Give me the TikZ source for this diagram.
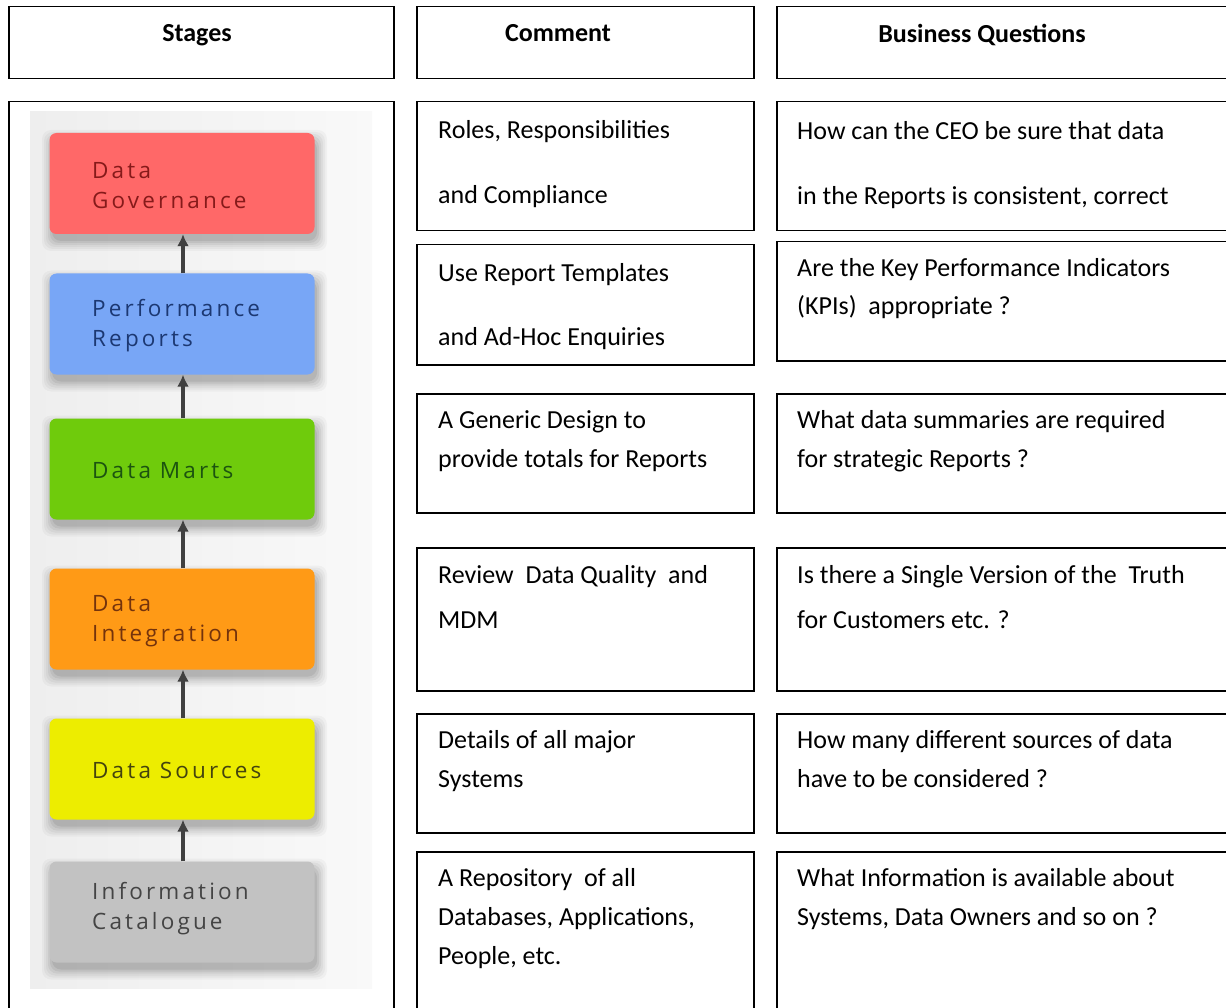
\documentclass[tikz,border=0pt]{standalone}
\usepackage{fontspec}
\setmainfont{Carlito}
\newfontfamily\stagefont[LetterSpace=14]{Open Sans}
\usetikzlibrary{arrows.meta}
\definecolor{dgfill}{HTML}{FF6868}
\definecolor{dgtext}{HTML}{861A1A}
\definecolor{prfill}{HTML}{78A6F6}
\definecolor{prtext}{HTML}{1C3872}
\definecolor{dmfill}{HTML}{6FCB0C}
\definecolor{dmtext}{HTML}{1C5410}
\definecolor{difill}{HTML}{FF9A16}
\definecolor{ditext}{HTML}{74330C}
\definecolor{dsfill}{HTML}{EDED00}
\definecolor{dstext}{HTML}{44440E}
\definecolor{icfill}{HTML}{C2C2C2}
\definecolor{ictext}{HTML}{444444}
\definecolor{bgleft}{HTML}{EEEEEE}
\definecolor{bgright}{HTML}{F9F9F9}
\definecolor{arrowgray}{HTML}{404040}
\begin{document}
\begin{tikzpicture}[x=1pt,y=-1pt,
  cell/.style={draw=black, line width=1.5pt, anchor=north west, inner sep=0pt, fill=white},
  hdr/.style={font=\fontsize{26}{31}\selectfont\bfseries, anchor=base, inner sep=0pt},
  txt/.style={anchor=base west, inner sep=0pt, align=left},
  stagebox/.style={rectangle, rounded corners=7pt, minimum width=265pt, minimum height=101pt,
    inner sep=0pt, draw=none},
  stagetxt/.style={anchor=west, inner sep=0pt, align=left,
    font=\stagefont\fontsize{22.5}{30}\selectfont},
  stagearrow/.style={draw=arrowgray, line width=3.3pt, -{Latex[length=12pt,width=12pt]}}
]
\clip (0,0) rectangle (1226,1008);
\fill[white] (0,0) rectangle (1226,1008);

% header row
\node[cell, minimum width=385pt, minimum height=72pt] (hstages) at (8,6) {};
\node[cell, minimum width=337pt, minimum height=72pt] (hcomment) at (416,6) {};
\node[cell, minimum width=470pt, minimum height=72pt] (hbusiness) at (776,6) {};
\node[hdr] (thstages) at (197,42) {Stages};
\node[hdr] (thcomment) at (558,42) {Comment};
\node[hdr] (thbusiness) at (982,43) {Business Questions};

% left stages frame
\node[cell, minimum width=385pt, minimum height=930pt] (stagesframe) at (8,101) {};
\shade[left color=bgleft, right color=bgright] (30,112) rectangle (372,988);

% soft shadows under the stage boxes
\foreach \cy in {183.5,324,469,619,769,912}{
  \foreach \r/\op in {10/0.03,8/0.035,6/0.04,4/0.05,2/0.06,0/0.07}{
    \fill[black, opacity=\op, rounded corners=9pt]
      (49-\r+3, \cy-50.5+7-\r) rectangle (314+\r+3, \cy+50.5+7+\r);
  }
}

% stage boxes
\node[stagebox, fill=dgfill] (dg) at (182,183.5) {};
\node[stagebox, fill=prfill] (pr) at (182,324) {};
\node[stagebox, fill=dmfill] (dm) at (182,469) {};
\node[stagebox, fill=difill] (di) at (182,619) {};
\node[stagebox, fill=dsfill] (ds) at (182,769) {};
\node[stagebox, fill=icfill] (ic) at (182,912) {};

\node[stagetxt, text=dgtext] (dgt) at (92,186) {Data\\Governance};
\node[stagetxt, text=prtext] (prt) at (92,326) {Performance\\Reports};
\node[stagetxt, text=dmtext] (dmt) at (92,471) {Data Marts};
\node[stagetxt, text=ditext] (dit) at (92,621) {Data\\Integration};
\node[stagetxt, text=dstext] (dst) at (92,770) {Data Sources};
\node[stagetxt, text=ictext] (ict) at (92,909) {Information\\Catalogue};

\draw[stagearrow] ([xshift=1pt]pr.north) -- ([xshift=1pt]dg.south);
\draw[stagearrow] ([xshift=1pt]dm.north) -- ([xshift=1pt]pr.south);
\draw[stagearrow] ([xshift=1pt]di.north) -- ([xshift=1pt]dm.south);
\draw[stagearrow] ([xshift=1pt]ds.north) -- ([xshift=1pt]di.south);
\draw[stagearrow] ([xshift=1pt]ic.north) -- ([xshift=1pt]ds.south);

% comment boxes
\node[cell, minimum width=337pt, minimum height=129pt] (c1) at (416,101) {};
\node[cell, minimum width=337pt, minimum height=120pt] (c2) at (416,244) {};
\node[cell, minimum width=337pt, minimum height=119pt] (c3) at (416,393) {};
\node[cell, minimum width=337pt, minimum height=143pt] (c4) at (416,547) {};
\node[cell, minimum width=337pt, minimum height=119pt] (c5) at (416,713) {};
\node[cell, minimum width=337pt, minimum height=180pt] (c6) at (416,851) {};

% business boxes
\node[cell, minimum width=470pt, minimum height=129pt] (b1) at (776,101) {};
\node[cell, minimum width=470pt, minimum height=119pt] (b2) at (776,241) {};
\node[cell, minimum width=470pt, minimum height=119pt] (b3) at (776,393) {};
\node[cell, minimum width=470pt, minimum height=143pt] (b4) at (776,547) {};
\node[cell, minimum width=470pt, minimum height=119pt] (b5) at (776,713) {};
\node[cell, minimum width=470pt, minimum height=180pt] (b6) at (776,851) {};

% comment texts (anchor = baseline of last line)
\node[txt, font=\fontsize{26}{65}\selectfont] (c1t) at (438,204) {Roles, Responsibilities\\and Compliance};
\node[txt, font=\fontsize{26}{64}\selectfont] (c2t) at (438,345) {Use Report Templates\\and Ad-Hoc Enquiries};
\node[txt, font=\fontsize{26}{39}\selectfont] (c3t) at (438,467) {A Generic Design to\\provide totals for Reports};
\node[txt, font=\fontsize{26}{45}\selectfont] (c4t) at (438,628) {Review\ \ Data Quality\ \ and\\MDM};
\node[txt, font=\fontsize{26}{39}\selectfont] (c5t) at (438,787) {Details of all major\\Systems};
\node[txt, font=\fontsize{26}{39}\selectfont] (c6t) at (438,964) {A Repository\ \ of all\\Databases, Applications,\\People, etc.};

% business texts
\node[txt, font=\fontsize{26}{65}\selectfont] (b1t) at (797,205) {How can the CEO be sure that data\\in the Reports is consistent, correct};
\node[txt, font=\fontsize{26}{37}\selectfont] (b2t) at (797,314) {Are the Key Performance Indicators\\(KPIs)\ \ appropriate ?};
\node[txt, font=\fontsize{26}{39}\selectfont] (b3t) at (797,467) {What data summaries are required\\for strategic Reports ?};
\node[txt, font=\fontsize{26}{45}\selectfont] (b4t) at (797,628) {Is there a Single Version of the\ \ Truth\\for Customers etc. ?};
\node[txt, font=\fontsize{26}{39}\selectfont] (b5t) at (797,787) {How many different sources of data\\have to be considered ?};
\node[txt, font=\fontsize{26}{39}\selectfont] (b6t) at (797,925) {What Information is available about\\Systems, Data Owners and so on ?};
\end{tikzpicture}
\end{document}
